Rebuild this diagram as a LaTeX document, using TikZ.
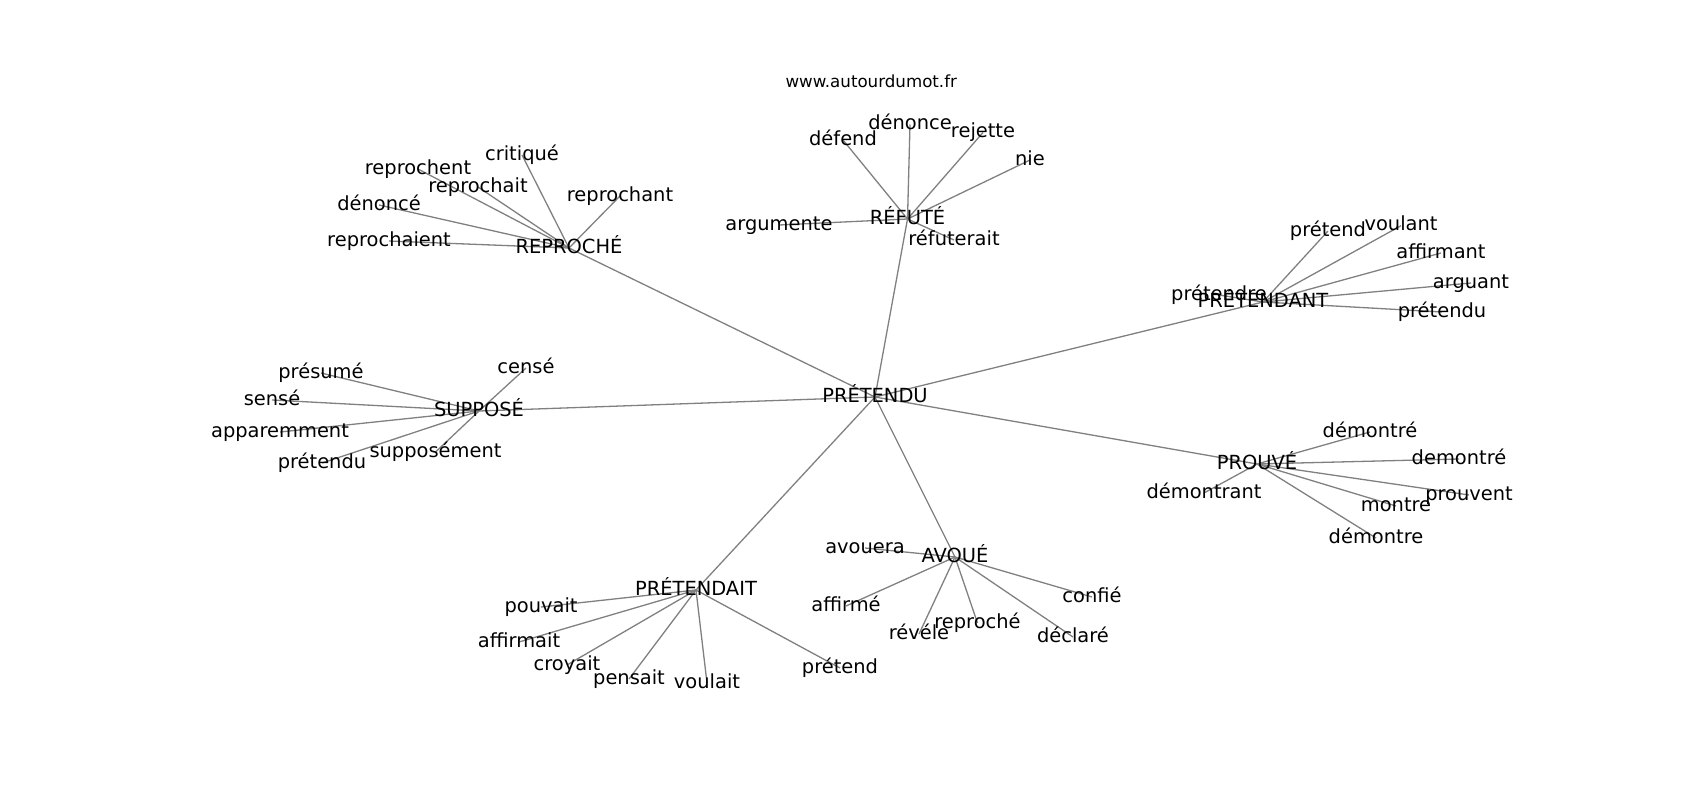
\documentclass[tikz,border=0pt]{standalone}
\usepackage{fontspec}
\setmainfont{DejaVu Sans}
\pgfdeclarelayer{background}
\pgfsetlayers{background,main}
\tikzset{
  word/.style={inner sep=0pt, outer sep=0pt, anchor=center, text height=14pt, text depth=4pt,
    font=\fontsize{19.44}{23}\selectfont, text=black},
  edge/.style={draw=gray, line width=1.3pt},
  ttl/.style={inner sep=0pt, anchor=base, font=\fontsize{16.67}{20}\selectfont, text=black}
}
\begin{document}
\begin{tikzpicture}[x=1pt,y=-1pt]
\useasboundingbox (0,0) rectangle (1700,800);
\node[ttl] (title) at (871.25,87.7) {www.autourdumot.fr};
% hubs
\node[word] (c) at (875,397) {PRÉTENDU};
\node[word] (rep) at (569,248) {REPROCHÉ};
\node[word] (ref) at (907.5,219) {RÉFUTÉ};
\node[word] (pdt) at (1263,302) {PRÉTENDANT};
\node[word] (sup) at (479,411) {SUPPOSÉ};
\node[word] (prv) at (1257,464) {PROUVÉ};
\node[word] (avo) at (955,557) {AVOUÉ};
\node[word] (pdi) at (696,590) {PRÉTENDAIT};
% REPROCHÉ
\node[word] (r1) at (522,155) {critiqué};
\node[word] (r2) at (418,169) {reprochent};
\node[word] (r3) at (478,187) {reprochait};
\node[word] (r4) at (379,205) {dénoncé};
\node[word] (r5) at (389,241) {reprochaient};
\node[word] (r6) at (620,196) {reprochant};
% RÉFUTÉ
\node[word] (f1) at (843,140) {défend};
\node[word] (f2) at (910,124.5) {dénonce};
\node[word] (f3) at (983,132.5) {rejette};
\node[word] (f4) at (1030,160) {nie};
\node[word] (f5) at (779,225) {argumente};
\node[word] (f6) at (954,240) {réfuterait};
% PRÉTENDANT
\node[word] (t1) at (1328,231) {prétend};
\node[word] (t2) at (1401,225.7) {voulant};
\node[word] (t3) at (1441,253) {affirmant};
\node[word] (t4) at (1471,283) {arguant};
\node[word] (t5) at (1442,312) {prétendu};
\node[word] (t6) at (1219,295) {prétendre};
% SUPPOSÉ
\node[word] (s1) at (321,373) {présumé};
\node[word] (s2) at (272,400) {sensé};
\node[word] (s3) at (280,432) {apparemment};
\node[word] (s4) at (322,463) {prétendu};
\node[word] (s5) at (435.5,452) {supposément};
\node[word] (s6) at (526,368) {censé};
% PROUVÉ
\node[word] (p1) at (1370,432) {démontré};
\node[word] (p2) at (1459,459) {demontré};
\node[word] (p3) at (1469,495) {prouvent};
\node[word] (p4) at (1396,506) {montre};
\node[word] (p5) at (1376,538) {démontre};
\node[word] (p6) at (1204,493) {démontrant};
% AVOUÉ
\node[word] (a1) at (865,548) {avouera};
\node[word] (a2) at (1092,597) {confié};
\node[word] (a3) at (846,606) {affirmé};
\node[word] (a4) at (919,634) {révéle};
\node[word] (a5) at (977.5,623) {reproché};
\node[word] (a6) at (1073,637) {déclaré};
% PRÉTENDAIT
\node[word] (d1) at (541,607) {pouvait};
\node[word] (d2) at (519,642) {affirmait};
\node[word] (d3) at (567,665) {croyait};
\node[word] (d4) at (629,679) {pensait};
\node[word] (d5) at (707,683) {voulait};
\node[word] (d6) at (840,668) {prétend};
\begin{pgfonlayer}{background}
\foreach \h in {rep,ref,pdt,sup,prv,avo,pdi} {\draw[edge] (c.center) -- (\h.center);}
\foreach \l in {r1,r2,r3,r4,r5,r6} {\draw[edge] (rep.center) -- (\l.center);}
\foreach \l in {f1,f2,f3,f4,f5,f6} {\draw[edge] (ref.center) -- (\l.center);}
\foreach \l in {t1,t2,t3,t4,t5,t6} {\draw[edge] (pdt.center) -- (\l.center);}
\foreach \l in {s1,s2,s3,s4,s5,s6} {\draw[edge] (sup.center) -- (\l.center);}
\foreach \l in {p1,p2,p3,p4,p5,p6} {\draw[edge] (prv.center) -- (\l.center);}
\foreach \l in {a1,a2,a3,a4,a5,a6} {\draw[edge] (avo.center) -- (\l.center);}
\foreach \l in {d1,d2,d3,d4,d5,d6} {\draw[edge] (pdi.center) -- (\l.center);}
\end{pgfonlayer}
\end{tikzpicture}
\end{document}
